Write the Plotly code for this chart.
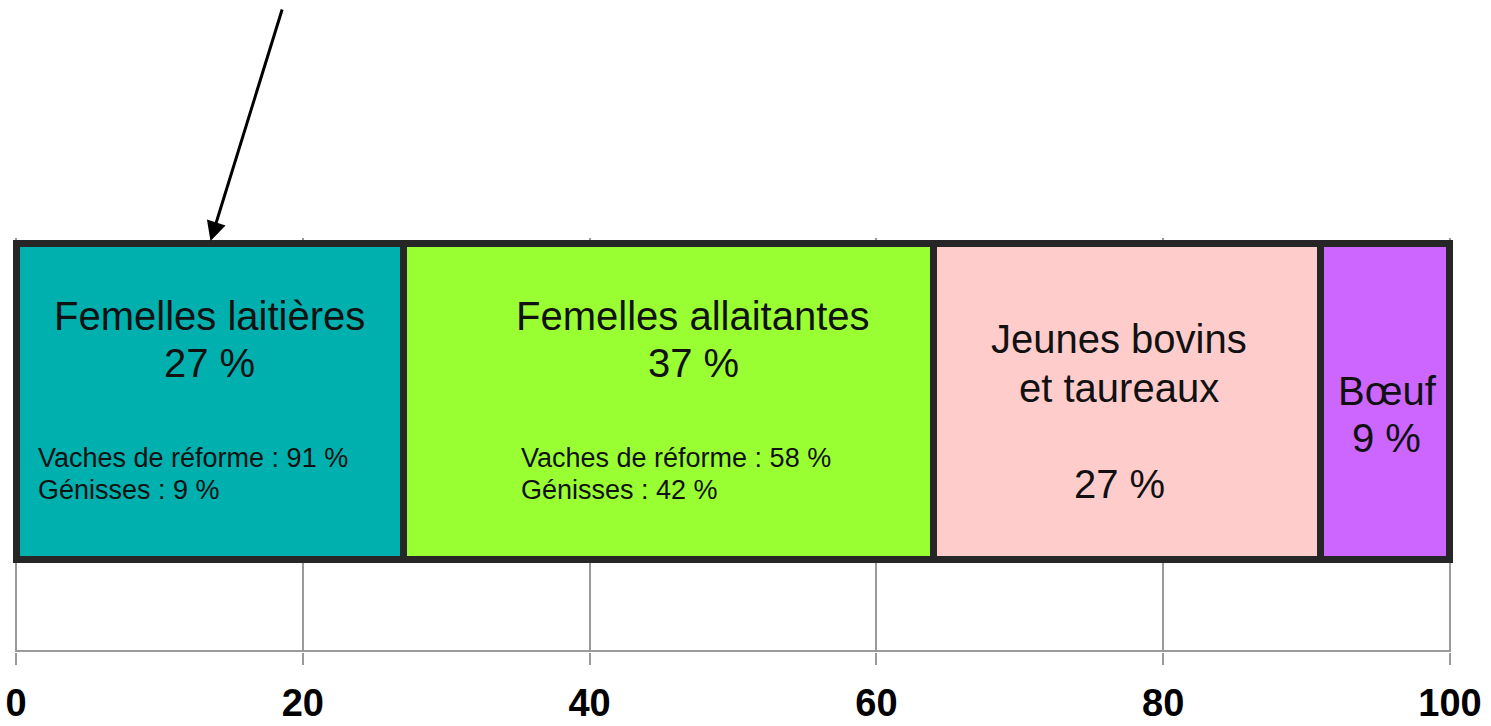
import plotly.graph_objects as go

# Segments of the bar (share in %)
categories = ["Femelles laitières", "Femelles allaitantes", "Jeunes bovins et taureaux", "Bœuf"]
shares = [27, 37, 27, 9]
colors = ["#00B0AE", "#99FF33", "#FFCCCC", "#CC66FF"]
tick_vals = [0, 20, 40, 60, 80, 100]

# sub-shares (cull cows / heifers) for the two female segments
reforme = [91, 58]
genisses = [9, 42]

FONT = "Liberation Sans, Arial, sans-serif"
TXT = "#111111"

fig = go.Figure()

# one horizontal bar per segment, stacked
for cat, val, col in zip(categories, shares, colors):
    fig.add_trace(go.Bar(
        x=[val], y=[0.5], width=1, orientation="h", name=cat,
        marker=dict(color=col, line=dict(color="#262626", width=7)),
        hoverinfo="skip",
    ))

# cumulative starts -> segment midpoints
starts = [sum(shares[:i]) for i in range(len(shares))]
mids = [s + v / 2 for s, v in zip(starts, shares)]

big = dict(family=FONT, size=40, color=TXT)
small = dict(family=FONT, size=27, color=TXT)


def label(x, y, text, font, xshift=0, anchor="center"):
    return dict(x=x, y=y, xref="x", yref="y", xshift=xshift, text=text, font=font,
                xanchor=anchor, yanchor="middle", showarrow=False)


ann = [
    # Femelles laitières
    label(mids[0], 0.772, categories[0], big),
    label(mids[0], 0.624, f"{shares[0]} %", big),
    label(starts[0], 0.323, f"Vaches de réforme : {reforme[0]} %", small, 20, "left"),
    label(starts[0], 0.221, f"Génisses : {genisses[0]} %", small, 20, "left"),
    # Femelles allaitantes
    label(mids[1], 0.772, categories[1], big, 25),
    label(mids[1], 0.624, f"{shares[1]} %", big, 25),
    label(starts[1], 0.323, f"Vaches de réforme : {reforme[1]} %", small, 116, "left"),
    label(starts[1], 0.221, f"Génisses : {genisses[1]} %", small, 116, "left"),
    # Jeunes bovins et taureaux
    label(mids[2], 0.699, "Jeunes bovins", big, -8),
    label(mids[2], 0.544, "et taureaux", big, -8),
    label(mids[2], 0.240, f"{shares[2]} %", big, -8),
    # Bœuf
    label(mids[3], 0.535, categories[3], big, 2),
    label(mids[3], 0.386, f"{shares[3]} %", big, 1),
]

# arrow pointing at the first segment
ann.append(dict(x=mids[0], y=1.0, xref="x", yref="y", ax=73, ay=-236,
                showarrow=True, arrowhead=2, arrowsize=1.3, arrowwidth=3,
                arrowcolor="#000000", standoff=3, text=""))

fig.update_layout(
    barmode="stack",
    width=1491, height=726,
    margin=dict(l=11, r=36, t=238, b=74),
    paper_bgcolor="white", plot_bgcolor="white",
    showlegend=False,
    annotations=ann,
    xaxis=dict(range=[-0.35, 100.35], tickvals=tick_vals, showgrid=True, automargin=False,
               gridcolor="#9a9a9a", gridwidth=2, zeroline=False, showline=False,
               ticks="outside", ticklen=12, tickwidth=2, tickcolor="#9a9a9a",
               ticklabelstandoff=5, ticklabeloverflow="allow",
               tickfont=dict(family=FONT, size=38, color="#000000", weight="bold")),
    yaxis=dict(range=[-0.2932, 1.019], visible=False, fixedrange=True, automargin=False),
    shapes=[dict(type="line", xref="x", yref="y", x0=0, x1=100, y0=-0.290, y1=-0.290,
                 line=dict(color="#9a9a9a", width=2), layer="below")],
)

# drop the browser's default 8px body margin so the figure fills the window
fig.write_html("out.html", config={"displayModeBar": False},
               post_script="document.body.style.margin='0';")
